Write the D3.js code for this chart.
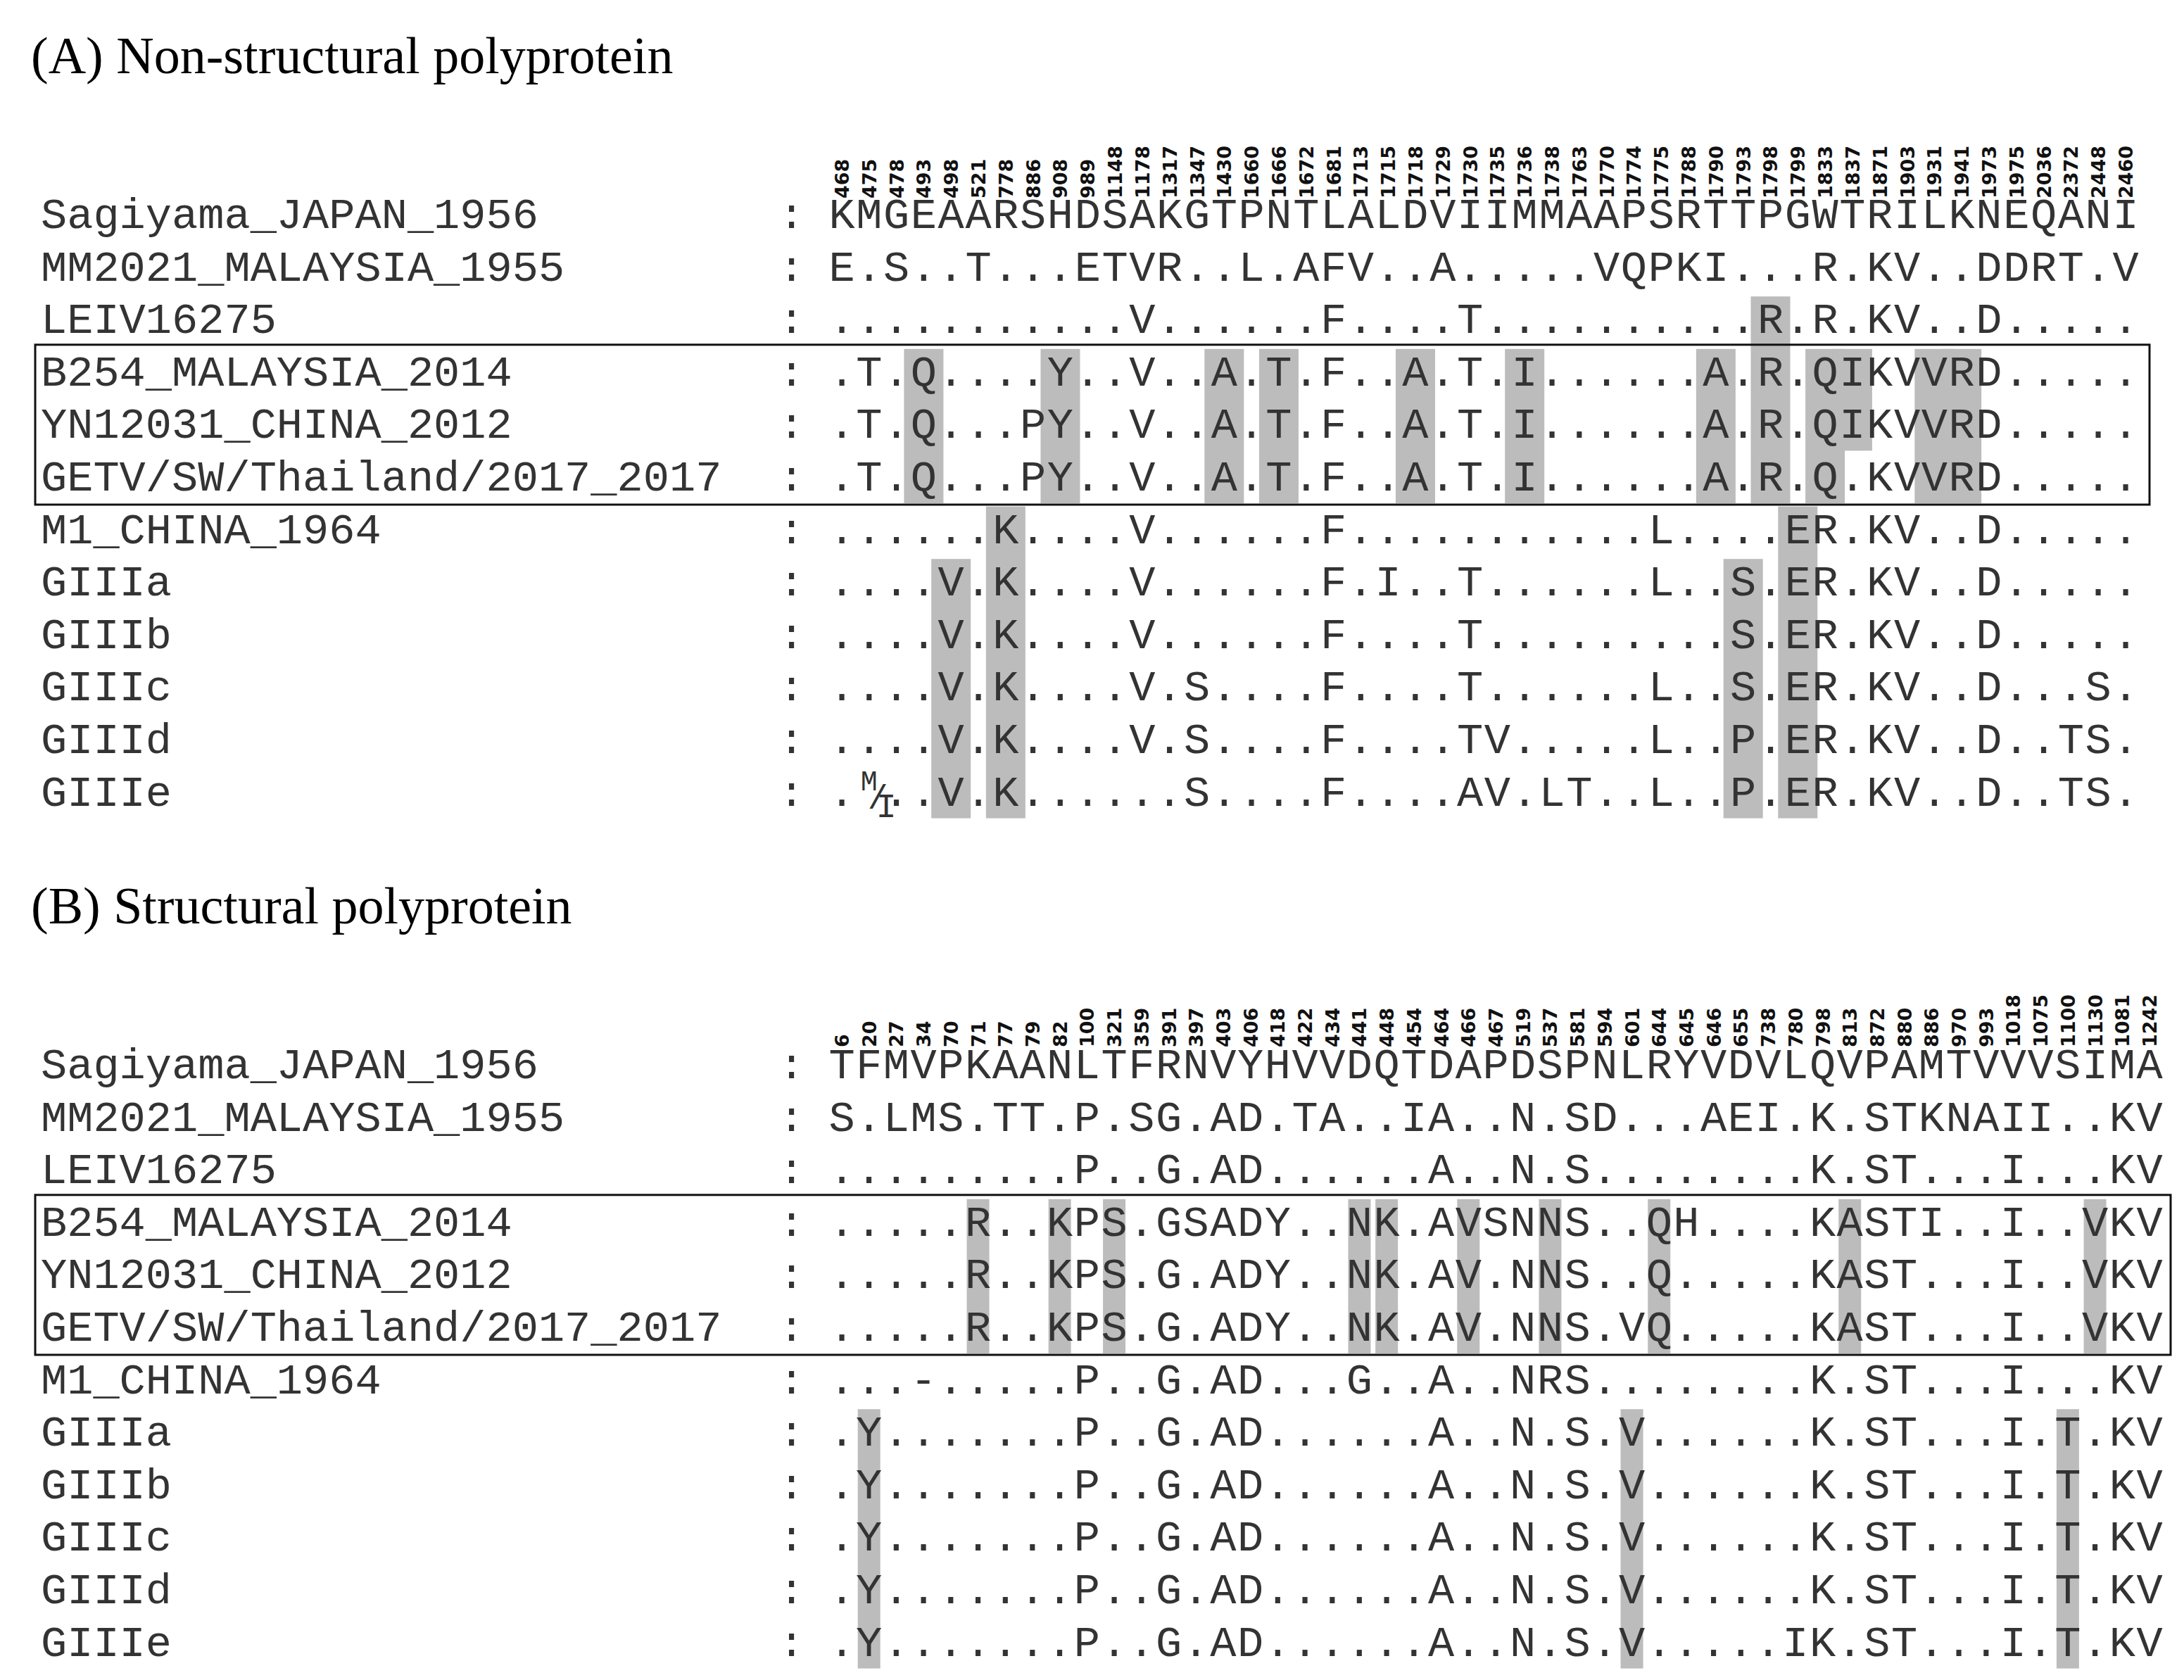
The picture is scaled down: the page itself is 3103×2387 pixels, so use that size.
<!DOCTYPE html>
<meta charset="utf-8">
<html>
<head>
<script src="https://d3js.org/d3.v7.min.js"></script>
<style>
  body { margin: 0; background: #fff; }
  .title { font: 74px "Liberation Serif", "Times New Roman", serif; }
  .seq { font: 62px "Liberation Mono", "Courier New", monospace; fill: #333; }
  .pos { font: bold 27px "DejaVu Sans", sans-serif; fill: #111; }
</style>
</head>
<body>
<svg id="chart" width="3103" height="2387"></svg>
<script>
const names = ["Sagiyama_JAPAN_1956", "MM2021_MALAYSIA_1955", "LEIV16275", "B254_MALAYSIA_2014",
  "YN12031_CHINA_2012", "GETV/SW/Thailand/2017_2017", "M1_CHINA_1964", "GIIIa", "GIIIb", "GIIIc", "GIIId", "GIIIe"];

const posA = [468,475,478,493,498,521,778,886,908,989,1148,1178,1317,1347,1430,1660,1666,1672,1681,1713,1715,1718,1729,1730,
  1735,1736,1738,1763,1770,1774,1775,1788,1790,1793,1798,1799,1833,1837,1871,1903,1931,1941,1973,1975,2036,2372,2448,2460];
const seqA = [
  "KMGEAARSHDSAKGTPNTLALDVIIMMAAPSRTTPGWTRILKNEQANI",
  "E.S..T...ETVR..L.AFV..A.....VQPKI...R.KV..DDRT.V",
  "...........V......F....T..........R.R.KV..D.....",
  ".T.Q....Y..V..A.T.F..A.T.I......A.R.QIKVVRD.....",
  ".T.Q...PY..V..A.T.F..A.T.I......A.R.QIKVVRD.....",
  ".T.Q...PY..V..A.T.F..A.T.I......A.R.Q.KVVRD.....",
  "......K....V......F...........L....ER.KV..D.....",
  "....V.K....V......F.I..T......L..S.ER.KV..D.....",
  "....V.K....V......F....T.........S.ER.KV..D.....",
  "....V.K....V.S....F....T......L..S.ER.KV..D...S.",
  "....V.K....V.S....F....TV.....L..P.ER.KV..D..TS.",
  ". ..V.K......S....F....AV.LT..L..P.ER.KV..D..TS."
];
// highlighted columns: [column (1-based), first row, last row] (0-based rows)
const hiA = [[4,3,5],[9,3,5],[15,3,5],[17,3,5],[22,3,5],[26,3,5],[33,3,5],[35,2,5],[37,3,5],[38,3,4],[41,3,5],[42,3,5],
  [5,7,11],[7,6,11],[34,7,11],[36,6,11]];

const posB = [6,20,27,34,70,71,77,79,82,100,321,359,391,397,403,406,418,422,434,441,448,454,464,466,467,519,537,581,594,601,
  644,645,646,655,738,780,798,813,872,880,886,970,993,1018,1075,1100,1130,1081,1242];
const seqB = [
  "TFMVPKAANLTFRNVYHVVDQTDAPDSPNLRYVDVLQVPAMTVVVSIMA",
  "S.LMS.TT.P.SG.AD.TA..IA..N.SD...AEI.K.STKNAII..KV",
  ".........P..G.AD......A..N.S........K.ST...I...KV",
  ".....R..KPS.GSADY..NK.AVSNNS..QH....KASTI..I..VKV",
  ".....R..KPS.G.ADY..NK.AV.NNS..Q.....KAST...I..VKV",
  ".....R..KPS.G.ADY..NK.AV.NNS.VQ.....KAST...I..VKV",
  "...-.....P..G.AD...G..A..NRS........K.ST...I...KV",
  ".Y.......P..G.AD......A..N.S.V......K.ST...I.T.KV",
  ".Y.......P..G.AD......A..N.S.V......K.ST...I.T.KV",
  ".Y.......P..G.AD......A..N.S.V......K.ST...I.T.KV",
  ".Y.......P..G.AD......A..N.S.V......K.ST...I.T.KV",
  ".Y.......P..G.AD......A..N.S.V.....IK.ST...I.T.KV"
];
const hiB = [[6,3,5],[9,3,5],[11,3,5],[20,3,5],[21,3,5],[24,3,5],[27,3,5],[31,3,5],[38,3,5],[47,3,5],
  [2,7,11],[30,7,11],[46,7,11]];

const svg = d3.select("#chart");

function panel(o) {
  const g = svg.append("g");
  const x = d3.scalePoint().domain(d3.range(1, o.seq[0].length + 1)).range(o.xr);
  const y = d3.scalePoint().domain(d3.range(names.length)).range(o.yr);

  g.append("text").attr("class", "title").attr("x", 44).attr("y", o.titleY).text(o.title);

  g.selectAll(".hi").data(o.hi).join("rect")
    .attr("x", d => x(d[0]) - o.hw / 2).attr("width", o.hw)
    .attr("y", d => y(d[1]) - 52).attr("height", d => y(d[2]) - y(d[1]) + 70)
    .attr("fill", "#bcbcbc");

  g.selectAll(".pos").data(o.pos).join("text").attr("class", "pos")
    .attr("transform", (d, i) => `translate(${x(i + 1) + 10},${o.posY}) rotate(-90)`)
    .text(d => d);

  const rows = g.selectAll(".row").data(o.seq).join("g")
    .attr("transform", (d, i) => `translate(0,${y(i)})`);
  rows.append("text").attr("class", "seq").attr("x", 58).text((d, i) => names[i]);
  rows.append("text").attr("class", "seq").attr("x", 1106).text(":");
  rows.selectAll(".c").data(d => d.split("")).join("text").attr("class", "seq")
    .attr("x", (d, i) => x(i + 1)).attr("text-anchor", "middle").text(d => d);

  g.append("rect").attr("x", o.box[0]).attr("y", y(3) - 58).attr("width", o.box[1] - o.box[0])
    .attr("height", y(5) - y(3) + 78).attr("fill", "none").attr("stroke", "#111").attr("stroke-width", 3);
  return { x, y, g };
}

const A = panel({ title: "(A) Non-structural polyprotein", titleY: 104, seq: seqA, pos: posA, hi: hiA,
  xr: [1196, 3020], yr: [324, 324 + 74.6 * 11], posY: 282, hw: 56, box: [50, 3054] });
// M/I mixed residue, GIIIe column 2
A.g.append("text").attr("class", "seq").attr("x", A.x(2) - 12).attr("y", A.y(11) - 22)
  .style("font-size", "40px").text("M");
A.g.append("text").attr("class", "seq").attr("x", A.x(2) - 2).attr("y", A.y(11) + 4)
  .style("font-size", "48px").text("/");
A.g.append("text").attr("class", "seq").attr("x", A.x(2) + 10).attr("y", A.y(11) + 16)
  .style("font-size", "48px").text("I");

panel({ title: "(B) Structural polyprotein", titleY: 1312, seq: seqB, pos: posB, hi: hiB,
  xr: [1196, 3054], yr: [1532, 1532 + 74.6 * 11], posY: 1488, hw: 32, box: [50, 3084] });
</script>
</body>
</html>
